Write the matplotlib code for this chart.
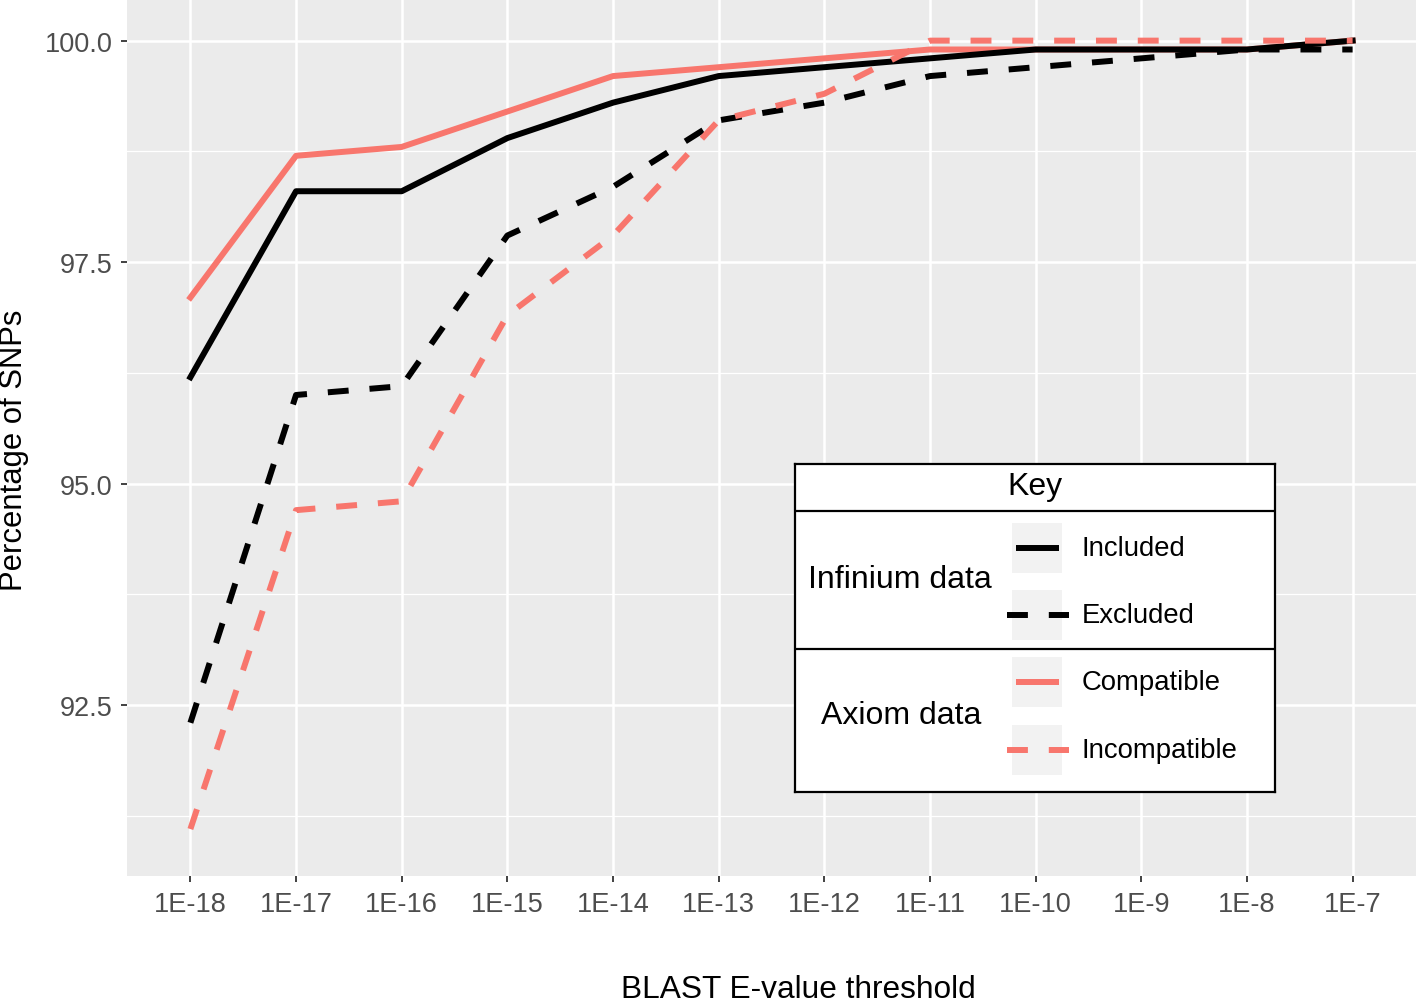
import numpy as np
import matplotlib
matplotlib.use("Agg")
import matplotlib.pyplot as plt
import matplotlib.patches as mpatches

plt.rcParams["font.family"] = ["Liberation Sans", "DejaVu Sans"]

# ── Data ──────────────────────────────────────────────────────────────────────
thresholds = ["1E-18", "1E-17", "1E-16", "1E-15", "1E-14", "1E-13",
              "1E-12", "1E-11", "1E-10", "1E-9", "1E-8", "1E-7"]

included     = [96.2, 98.3, 98.3, 98.9, 99.3, 99.6, 99.7, 99.8, 99.9, 99.9, 99.9, 100.0]
excluded     = [92.3, 96.0, 96.1, 97.8, 98.35, 99.1, 99.3, 99.6, 99.7, 99.8, 99.9, 99.9]
compatible   = [97.1, 98.7, 98.8, 99.2, 99.6, 99.7, 99.8, 99.9, 99.9, 99.9, 99.9, 100.0]
incompatible = [91.1, 94.7, 94.8, 96.9, 97.8, 99.1, 99.4, 100.0, 100.0, 100.0, 100.0, 100.0]

y_ticks = [92.5, 95.0, 97.5, 100.0]
y_minor = [91.25, 93.75, 96.25, 98.75]

SALMON = "#F8766D"
W, H = 1418, 1004
LW = 4.3
DASH = (3.5, 3.5)

# ── Figure / panel ────────────────────────────────────────────────────────────
fig = plt.figure(figsize=(W / 100, H / 100), dpi=100)
ax = fig.add_axes([127 / W, 1 - 877 / H, (1416 - 127) / W, 877 / H])
ax.set_facecolor("#EBEBEB")
for s in ax.spines.values():
    s.set_visible(False)

x = np.arange(len(thresholds))
ax.set_xlim(-0.6, len(thresholds) - 1 + 0.6)
ax.set_ylim(90.57, 100.47)

for yv in y_minor:
    ax.axhline(yv, color="white", lw=0.9, zorder=0)
for yv in y_ticks:
    ax.axhline(yv, color="white", lw=1.8, zorder=0)
for xv in x:
    ax.axvline(xv, color="white", lw=1.8, zorder=0)

ax.plot(x, included, color="black", lw=LW, solid_joinstyle="round", zorder=3)
ax.plot(x, compatible, color=SALMON, lw=LW, solid_joinstyle="round", zorder=2)
ax.plot(x, excluded, color="black", lw=LW, dashes=DASH,
        dash_capstyle="butt", zorder=3)
ax.plot(x, incompatible, color=SALMON, lw=LW, dashes=DASH,
        dash_capstyle="butt", zorder=4)

ax.set_xticks(x)
ax.set_xticklabels(thresholds)
ax.set_yticks(y_ticks)
ax.set_yticklabels([f"{v:.1f}" for v in y_ticks])
ax.tick_params(axis="both", length=4.5, width=1.3, color="#333333",
               labelcolor="#4D4D4D", labelsize=19.5, pad=6)

fig.text(798 / W, 1 - 990 / H, "BLAST E-value threshold",
         ha="center", va="center", fontsize=22.8)
fig.text(14 / W, 1 - 450 / H, "Percentage of SNPs", rotation=90,
         ha="center", va="center", fontsize=22.3)

# ── Key (drawn in pixel coordinates) ──────────────────────────────────────────
x0, x1, y0, y1 = 795, 1275, 465, 793
lg = fig.add_axes([x0 / W, 1 - y1 / H, (x1 - x0) / W, (y1 - y0) / H])
lg.set_xlim(x0, x1)
lg.set_ylim(y1, y0)
lg.set_xticks([])
lg.set_yticks([])
lg.set_facecolor("white")
for s in lg.spines.values():
    s.set_linewidth(1.6)
    s.set_color("black")

lg.axhline(512, color="black", lw=1.6)
lg.axhline(650, color="black", lw=1.6)
lg.text(1035, 487, "Key", ha="center", va="center", fontsize=23)
lg.text(900, 580, "Infinium data", ha="center", va="center", fontsize=23)
lg.text(901, 716, "Axiom data", ha="center", va="center", fontsize=23)

entries = [
    ("Included", "black", "-", 549),
    ("Excluded", "black", "--", 616),
    ("Compatible", SALMON, "-", 683),
    ("Incompatible", SALMON, "--", 751),
]
for label, color, style, yc in entries:
    lg.add_patch(mpatches.Rectangle((1012, yc - 25), 50, 50,
                                    facecolor="#F2F2F2", edgecolor="none"))
    if style == "-":
        lg.plot([1016, 1059], [yc, yc], color=color, lw=LW,
                solid_capstyle="butt")
    else:
        lg.plot([1007, 1069], [yc, yc], color=color, lw=LW,
                dashes=DASH, dash_capstyle="butt")
    lg.text(1082, yc, label, ha="left", va="center", fontsize=19.8)

fig.savefig("out.png", dpi=100, facecolor="white")
